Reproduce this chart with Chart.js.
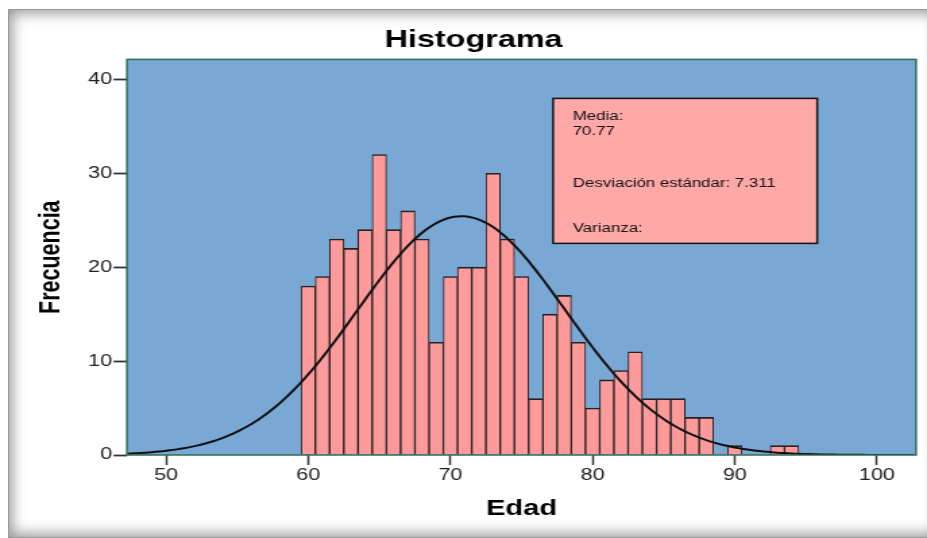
<!DOCTYPE html>
<html>
<head>
<meta charset="utf-8">
<script src="https://cdn.jsdelivr.net/npm/chart.js@4"></script>
<style>
html,body{margin:0;padding:0;background:#fff;width:927px;height:538px;overflow:hidden}
#frame{position:absolute;left:8px;top:9px;width:930px;height:527px;box-shadow:inset 0 0 14px 3px rgba(0,0,0,0.42);border:1px solid #9a9a9a;}
#c{position:absolute;left:0;top:0}
</style>
</head>
<body>
<div id="frame"></div>
<canvas id="c" width="687" height="538" style="width:927px;height:538px"></canvas>
<script>
// ---- data ----
const ages   = [60,61,62,63,64,65,66,67,68,69,70,71,72,73,74,75,76,77,78,79,80,81,82,83,84,85,86,87,88,90,93,94];
const counts = [18,19,23,22,24,32,24,26,23,12,19,20,20,30,23,19, 6,15,17,12, 5, 8, 9,11, 6, 6, 6, 4, 4, 1, 1, 1];
const xTicks = [50,60,70,80,90,100];
const yTicks = [0,10,20,30,40];
const mean = 70.77;
const stdDev = 7.311;
const statLines = ['Media:', '70.77', 'Desviación estándar: 7.311', 'Varianza:'];

const total = counts.reduce((a,b)=>a+b,0);
// fitted normal curve (from the stated mean / std. deviation)
const curveX = [];
for (let v = 47.25; v <= 102.75001; v += 0.25) curveX.push(+v.toFixed(2));
const curve = curveX.map(x => ({x, y: total / (stdDev*Math.sqrt(2*Math.PI)) * Math.exp(-0.5*Math.pow((x-mean)/stdDev,2))}));

const FONT = '"Liberation Sans", Arial, sans-serif';

const plotFrame = {
  id: 'plotFrame',
  afterLayout(chart){
    const t = chart.titleBlock;
    if (t) { const shift = 350.9 - (t.left + t.right)/2; t.left += shift; t.right += shift; }
  },
  beforeDatasetsDraw(chart){
    const {ctx, chartArea:a} = chart;
    ctx.save();
    ctx.fillStyle = '#79A8D5';
    ctx.fillRect(a.left, a.top, a.right-a.left, a.bottom-a.top);
    ctx.restore();
  },
  afterDatasetsDraw(chart){
    const {ctx, chartArea:a} = chart;
    ctx.save();
    ctx.strokeStyle = '#2E6E55';
    ctx.lineWidth = 1.5;
    ctx.strokeRect(a.left, a.top, a.right-a.left, a.bottom-a.top);
    // statistics box
    const bx = a.left + 315.8, by = a.top + 39, bw = 195.7, bh = 145;
    ctx.fillStyle = '#FFA8A8';
    ctx.fillRect(bx, by, bw, bh);
    ctx.strokeStyle = '#111';
    ctx.lineWidth = 1.5;
    ctx.strokeRect(bx, by, bw, bh);
    ctx.fillStyle = '#111';
    ctx.font = '12.5px ' + FONT;
    ctx.textBaseline = 'middle';
    ctx.textAlign = 'left';
    const ys = [117, 132, 184, 229];
    statLines.forEach((s,i) => ctx.fillText(s, bx + 14.5, ys[i]));
    ctx.restore();
  }
};

new Chart(document.getElementById('c'), {
  type: 'bar',
  data: {
    datasets: [
      {
        type: 'line',
        label: 'Normal',
        data: curve,
        borderColor: '#111',
        borderWidth: 2,
        pointRadius: 0,
        fill: false,
        tension: 0,
        order: 0
      },
      {
        type: 'bar',
        label: 'Frecuencia',
        data: ages.map((a,i)=>({x:a, y:counts[i]})),
        backgroundColor: '#FF9A9A',
        borderColor: '#222',
        borderWidth: {top:1.6, left:1, right:1, bottom:0},
        borderSkipped: false,
        barPercentage: 1,
        categoryPercentage: 1,
        order: 1
      }
    ]
  },
  options: {
    responsive: false,
    animation: false,
    devicePixelRatio: 1,
    layout: {padding: {left:0, right:8.14, top:0, bottom:0}},
    plugins: {
      legend: {display:false},
      tooltip: {enabled:false},
      title: {
        display: true,
        text: 'Histograma',
        color: '#000',
        font: {family: FONT, size: 24, weight: 'bold'},
        padding: {top: 26, bottom: 4.6}
      }
    },
    scales: {
      x: {
        type: 'linear',
        offset: false,
        min: 47.25,
        max: 102.75,
        afterBuildTicks: s => { s.ticks = xTicks.map(v=>({value:v})); },
        afterFit: s => { s.height = 83; },
        ticks: {font:{family:FONT, size:16}, color:'#222', padding:1, maxRotation:0, autoSkip:false},
        grid: {offset:false, drawOnChartArea:false, drawTicks:true, tickLength:10, tickColor:'#333', tickWidth:1.5},
        border: {display:false},
        title: {display:true, text:'Edad', color:'#000', font:{family:FONT, size:21.5, weight:'bold'}, padding:{top:0, bottom:16}}
      },
      y: {
        min: 0,
        max: 42.13,
        afterBuildTicks: s => { s.ticks = yTicks.map(v=>({value:v})); },
        afterFit: s => { s.width = 94.12; },
        ticks: {font:{family:FONT, size:16}, color:'#222', padding:1},
        grid: {drawOnChartArea:false, drawTicks:true, tickLength:10, tickColor:'#333', tickWidth:1.8},
        border: {display:false},
        title: {display:true, text:'Frecuencia', color:'#000', font:{family:FONT, size:21.5, weight:'bold'}, padding:{top:25, bottom:0}}
      }
    }
  },
  plugins: [plotFrame]
});
</script>
</body>
</html>
